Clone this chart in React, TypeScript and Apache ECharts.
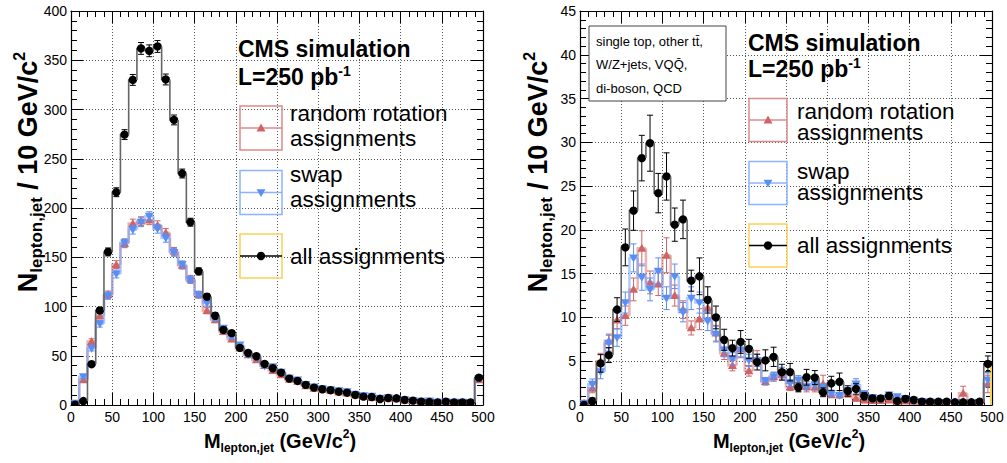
import React, { useEffect, useRef } from "react";
import * as echarts from "echarts";

// ---------- data ----------
const BIN_WIDTH = 10; // GeV/c^2, 50 bins from 0 to 500
const xTicks = [0, 50, 100, 150, 200, 250, 300, 350, 400, 450, 500];

// Left panel: ttbar signal
const leftAll = [0.3, 4, 41.4, 96, 155.4, 216, 274.5, 330, 362, 359.6, 364, 330.5, 289.4, 235, 185.6, 135.7, 110, 90.6, 76.3, 73, 58, 52.8, 49.5, 41.7, 37.3, 32.9, 26.8, 24.4, 20.4, 17.6, 16, 15, 13.5, 12.5, 10.2, 8.5, 8.1, 6.1, 7.1, 6.8, 5.1, 4.4, 3.4, 3, 2.7, 3.4, 2.7, 2.7, 2.7, 27.8];
const leftAllErr = [0.3, 1, 2, 3, 4, 4.5, 5, 5.5, 6, 6, 6, 5.5, 5, 4.5, 4, 3.5, 3, 3, 2.5, 2.5, 2.4, 2.3, 2.2, 2, 1.9, 1.8, 1.6, 1.6, 1.4, 1.3, 1.3, 1.2, 1.2, 1.1, 1, 0.9, 0.9, 0.8, 0.8, 0.8, 0.7, 0.7, 0.6, 0.6, 0.5, 0.6, 0.5, 0.5, 0.5, 1.6];
const leftRot = [1, 25.4, 64.4, 90.6, 112, 142.5, 163.9, 184.2, 186.6, 187.6, 182.5, 174.8, 156, 141.8, 128, 112, 95.7, 86.5, 74.6, 66.9, 57.7, 51, 45.8, 40, 35, 30.5, 26, 24, 19.5, 17, 15.5, 14.5, 13, 12, 10, 8.5, 7.5, 6.5, 6.8, 6.2, 4.8, 4.2, 3.6, 3.2, 3, 3, 2.8, 2.6, 2.6, 25.5];
const leftSwap = [2, 28.8, 57.7, 82.4, 111, 133, 164.6, 178, 185.6, 191.7, 179, 169.6, 155, 142.5, 127, 112, 103.5, 88, 78, 69.5, 61, 51, 48, 39.5, 39, 33.5, 27.5, 25.5, 21, 18.5, 16.5, 15.5, 14.5, 13.5, 11, 9.5, 9, 7, 7.5, 6.5, 5.5, 4.8, 4, 4.2, 3, 3.2, 2.9, 2.8, 2.6, 26.5];
const leftAssignErr = [0.5, 1.8, 2.8, 3.3, 3.7, 4, 4.2, 4.5, 4.5, 4.5, 4.5, 4.3, 4, 3.8, 3.6, 3.4, 3.1, 2.9, 2.7, 2.6, 2.4, 2.2, 2.1, 2, 1.9, 1.7, 1.6, 1.5, 1.4, 1.3, 1.3, 1.2, 1.2, 1.1, 1, 0.9, 0.9, 0.8, 0.8, 0.8, 0.7, 0.7, 0.6, 0.6, 0.5, 0.5, 0.5, 0.5, 0.5, 1.6];

// Right panel: backgrounds
const rightAll = [0, 0.45, 4.75, 5.7, 10.9, 18, 22.2, 28.2, 29.9, 24.2, 26.1, 20.6, 21.2, 14.2, 14.7, 12, 10, 7.45, 6.5, 7.2, 6.4, 4.9, 5.1, 5.5, 3.75, 3.75, 2, 3.17, 3.13, 1.45, 2.48, 2.65, 1.6, 1.83, 1, 0.76, 0.76, 1.03, 0.46, 0.69, 0.57, 0.38, 0.38, 0.38, 0.38, 0.31, 0.31, 0.31, 0.38, 4.7];
const rightAllErr = [0, 0.35, 1, 0.85, 1.35, 2.1, 2.25, 2.6, 3.2, 2.25, 2.7, 1.9, 2.2, 1.2, 2.1, 1.5, 1.3, 1.2, 0.9, 1.3, 1.1, 0.9, 1.2, 1.1, 0.9, 1, 0.5, 0.9, 0.8, 0.5, 0.8, 1, 0.6, 0.6, 0.4, 0.3, 0.3, 0.35, 0.25, 0.3, 0.25, 0.2, 0.2, 0.2, 0.2, 0.2, 0.2, 0.2, 0.2, 0.9];
const rightRot = [0.2, 1.9, 5, 7.3, 9.7, 10.2, 13.2, 17.9, 14, 13.8, 17.1, 12.5, 10.9, 8.8, 9.8, 11.1, 8.2, 5.9, 4.5, 6.4, 3.9, 5.3, 2.67, 3.24, 3.43, 2.05, 2.1, 2.1, 2, 2.4, 1.15, 1.15, 1.3, 0.76, 0.57, 0.5, 0.5, 0.57, 0.4, 0.45, 0.4, 0.3, 0.3, 0.3, 0.25, 0.3, 1.34, 0.3, 0.25, 2.4];
const rightRotErr = [0.2, 0.5, 0.9, 0.8, 1, 1.1, 1.3, 2, 1.3, 1.3, 2, 1.2, 1, 0.8, 1.2, 1.3, 0.9, 0.7, 0.6, 1, 0.6, 0.9, 0.4, 0.5, 0.6, 0.4, 0.5, 0.6, 0.5, 1, 0.3, 0.3, 0.4, 0.3, 0.25, 0.2, 0.2, 0.25, 0.2, 0.2, 0.2, 0.15, 0.15, 0.15, 0.15, 0.15, 0.8, 0.15, 0.15, 1];
const rightSwap = [0.2, 2.37, 3.8, 7.06, 7.7, 11.7, 16.8, 14.6, 13.2, 15.3, 12.2, 14.7, 10.6, 12.2, 11.7, 9.6, 8.1, 6.3, 5.27, 6.3, 5.1, 5.1, 2.75, 3.24, 3.7, 2.5, 2.86, 2.1, 2.3, 2, 1.3, 1.1, 1.6, 2.4, 1.3, 0.88, 0.76, 1.15, 0.95, 0.76, 0.57, 0.4, 0.35, 0.3, 0.3, 0.3, 0.25, 0.25, 0.3, 2.86];
const rightSwapErr = [0.2, 0.6, 0.8, 0.9, 1, 1.2, 1.6, 1.5, 1.3, 1.5, 1.3, 1.4, 1.1, 1.3, 1.2, 1.1, 0.9, 0.8, 0.7, 0.8, 0.7, 0.7, 0.4, 0.5, 0.6, 0.4, 0.5, 0.4, 0.4, 0.4, 0.3, 0.3, 0.4, 0.6, 0.3, 0.25, 0.2, 0.3, 0.25, 0.2, 0.2, 0.15, 0.15, 0.15, 0.15, 0.15, 0.15, 0.15, 0.15, 0.8];

const legendLabels = ["random rotation\nassignments", "swap\nassignments", "all assignments"];
const infoLines = ["single top, other tt\u0304,", "W/Z+jets, VQQ\u0304,", "di-boson, QCD"];

// ---------- styles ----------
const FONT = "'Liberation Sans', Arial, Helvetica, sans-serif";
const RED = "#d06464";
const RED_LINE = "rgba(214,120,120,0.55)";
const RED_BOX = "#dc8a8a";
const BLUE = "#5b8ef5";
const BLUE_LINE = "rgba(110,160,255,0.55)";
const BLUE_BOX = "#8db3ff";
const YELLOW = "#f7d25a";

type Marker = "circle" | "up" | "down";

function markerShape(kind: Marker, cx: number, cy: number, color: string, s = 4.5): any {
  if (kind === "circle") return { type: "circle", shape: { cx, cy, r: 4.2 }, style: { fill: color } };
  const pts = kind === "up"
    ? [[cx, cy - s], [cx - s, cy + s * 0.75], [cx + s, cy + s * 0.75]]
    : [[cx, cy + s], [cx - s, cy - s * 0.75], [cx + s, cy - s * 0.75]];
  return { type: "polygon", shape: { points: pts }, style: { fill: color } };
}

function makeHist(gi: number, values: number[], errs: number[], o: any) {
  const data = values.map((v, i) => [i * BIN_WIDTH, (i + 1) * BIN_WIDTH, v, errs[i], i > 0 ? values[i - 1] : 0]);
  return {
    type: "custom",
    xAxisIndex: gi * 2,
    yAxisIndex: gi * 2,
    clip: true,
    z: o.z,
    data,
    encode: { x: [0, 1], y: 2 },
    renderItem: (params: any, api: any) => {
      const lo = api.value(0), hi = api.value(1), v = api.value(2), e = api.value(3), pv = api.value(4);
      const a = api.coord([lo, pv]);
      const b = api.coord([lo, v]);
      const c = api.coord([hi, v]);
      const cx = (b[0] + c[0]) / 2;
      const yT = api.coord([lo, v + e])[1];
      const yB = api.coord([lo, Math.max(v - e, 0)])[1];
      const children: any[] = [
        { type: "polyline", shape: { points: [a, b, c] }, style: { stroke: o.line, lineWidth: o.lw, fill: "none" } },
      ];
      if (o.edge && params.dataIndex === values.length - 1) {
        const z0 = api.coord([hi, 0]);
        children.push({ type: "line", shape: { x1: c[0] - 1, y1: c[1], x2: z0[0] - 1, y2: z0[1] }, style: { stroke: o.edge, lineWidth: 2 } });
      }
      if (e > 0) {
        const es = { stroke: o.err, lineWidth: 1 };
        children.push({ type: "line", shape: { x1: cx, y1: yT, x2: cx, y2: yB }, style: es });
        children.push({ type: "line", shape: { x1: cx - 3, y1: yT, x2: cx + 3, y2: yT }, style: es });
        children.push({ type: "line", shape: { x1: cx - 3, y1: yB, x2: cx + 3, y2: yB }, style: es });
      }
      children.push(markerShape(o.marker, cx, b[1], o.color));
      return { type: "group", children };
    },
  };
}

function xAxes(gi: number) {
  const common = {
    type: "value", gridIndex: gi, min: 0, max: 500, interval: 50,
    axisLine: { show: true, onZero: false, lineStyle: { color: "#000", width: 1.2 } },
    axisTick: { show: true, inside: true, length: 12, lineStyle: { color: "#000", width: 1 } },
    minorTick: { show: true, splitNumber: 5, length: 6, lineStyle: { color: "#000", width: 1 } },
    minorSplitLine: { show: false },
  };
  return [
    { ...common, position: "bottom",
      axisLabel: { show: true, color: "#000", fontSize: 14, fontFamily: FONT, margin: 5,
        formatter: (v: number) => (xTicks.includes(v) ? String(v) : "") },
      splitLine: { show: true, lineStyle: { color: "#555", type: [1, 2], width: 1 } } },
    { ...common, position: "top", axisLabel: { show: false }, splitLine: { show: false } },
  ];
}

function yAxes(gi: number, max: number, interval: number) {
  const common = {
    type: "value", gridIndex: gi, min: 0, max, interval,
    axisLine: { show: true, onZero: false, lineStyle: { color: "#000", width: 1.2 } },
    axisTick: { show: true, inside: true, length: 12, lineStyle: { color: "#000", width: 1 } },
    minorTick: { show: true, splitNumber: 5, length: 6, lineStyle: { color: "#000", width: 1 } },
    minorSplitLine: { show: false },
  };
  return [
    { ...common, position: "left",
      axisLabel: { show: true, color: "#000", fontSize: 14, fontFamily: FONT, margin: 4 },
      splitLine: { show: true, lineStyle: { color: "#555", type: [1, 2], width: 1 } } },
    { ...common, position: "right", axisLabel: { show: false }, splitLine: { show: false } },
  ];
}

const richX = {
  n: { fontSize: 20, fontWeight: "bold", fontFamily: FONT, fill: "#000", lineHeight: 26 },
  s: { fontSize: 12, fontWeight: "bold", fontFamily: FONT, fill: "#000", lineHeight: 12, verticalAlign: "bottom" },
  p: { fontSize: 12, fontWeight: "bold", fontFamily: FONT, fill: "#000", lineHeight: 12, verticalAlign: "top" },
};
const richY = {
  n: { fontSize: 27, fontWeight: "bold", fontFamily: FONT, fill: "#000", lineHeight: 34 },
  s: { fontSize: 17, fontWeight: "bold", fontFamily: FONT, fill: "#000", lineHeight: 17, verticalAlign: "bottom" },
  p: { fontSize: 16, fontWeight: "bold", fontFamily: FONT, fill: "#000", lineHeight: 16, verticalAlign: "top" },
};

function txt(x: number, y: number, text: string, size: number, bold = false, extra: any = {}) {
  return {
    type: "text", x, y, z: 100,
    style: { text, fill: "#000", font: `${bold ? "bold " : ""}${size}px ${FONT}`, align: "left", verticalAlign: "middle", ...extra },
  };
}

function panelTexts(ox: number, cmsY: number, lumY: number, lg: any) {
  const els: any[] = [];
  els.push(txt(ox, cmsY, "CMS simulation", 23, true));
  els.push({
    type: "text", x: ox, y: lumY, z: 100,
    style: {
      text: "{m|L=250 pb}{p|-1}", align: "left", verticalAlign: "middle",
      rich: {
        m: { fontSize: 23, fontWeight: "bold", fontFamily: FONT, fill: "#000", lineHeight: 26 },
        p: { fontSize: 14, fontWeight: "bold", fontFamily: FONT, fill: "#000", lineHeight: 14, verticalAlign: "top" },
      },
    },
  });
  const boxes = [
    { y: lg.y[0], color: RED_BOX, mk: "up", mc: RED, lineC: RED_BOX, label: legendLabels[0], ty: lg.t[0] },
    { y: lg.y[1], color: BLUE_BOX, mk: "down", mc: BLUE, lineC: BLUE_BOX, label: legendLabels[1], ty: lg.t[1] },
    { y: lg.y[2], color: YELLOW, mk: "circle", mc: "#000", lineC: "#000", label: legendLabels[2], ty: lg.t[2] },
  ];
  boxes.forEach((b) => {
    els.push({ type: "rect", z: 99, shape: { x: lg.x, y: b.y, width: lg.w, height: lg.h }, style: { fill: "none", stroke: b.color, lineWidth: 1.5 } });
    const my = b.y + lg.h / 2;
    els.push({ type: "line", z: 99, shape: { x1: lg.x, y1: my, x2: lg.x + lg.w, y2: my }, style: { stroke: b.lineC, lineWidth: 1.5 } });
    els.push({ ...markerShape(b.mk as Marker, lg.x + lg.w / 2, my, b.mc), z: 100 });
    els.push(txt(lg.tx, b.ty, b.label, 22.5, false, { lineHeight: lg.lh }));
  });
  return els;
}

export default function App() {
  const ref = useRef<HTMLDivElement>(null);
  useEffect(() => {
    if (!ref.current) return;
    const chart = echarts.init(ref.current, undefined, { renderer: "svg" });
    const option: any = {
      animation: false,
      backgroundColor: "#fff",
      grid: [
        { left: 71, top: 11, width: 412, height: 394 },
        { left: 580, top: 11, width: 412, height: 394 },
      ],
      xAxis: [...xAxes(0), ...xAxes(1)],
      yAxis: [...yAxes(0, 400, 50), ...yAxes(1, 45, 5)],
      series: [
        makeHist(0, leftRot, leftAssignErr, { line: RED_LINE, lw: 2.5, err: RED, color: RED, marker: "up", z: 3 }),
        makeHist(0, leftSwap, leftAssignErr, { line: BLUE_LINE, lw: 2.5, err: BLUE, color: BLUE, marker: "down", z: 4 }),
        makeHist(0, leftAll, leftAllErr, { line: "#666", lw: 1.6, err: "#000", color: "#000", marker: "circle", z: 5 }),
        makeHist(1, rightRot, rightRotErr, { line: RED_LINE, lw: 2.5, err: RED, color: RED, marker: "up", z: 3 }),
        makeHist(1, rightSwap, rightSwapErr, { line: BLUE_LINE, lw: 2.5, err: BLUE, color: BLUE, marker: "down", z: 4 }),
        makeHist(1, rightAll, rightAllErr, { line: "#666", lw: 1.6, err: "#000", color: "#000", marker: "circle", z: 5, edge: YELLOW }),
      ],
      graphic: [
        // axis titles
        { type: "text", x: 28, y: 172, rotation: Math.PI / 2, z: 100,
          style: { text: "{n|N}{s|lepton,jet}{n| / 10 GeV/c}{p|2}", rich: richY, align: "center", verticalAlign: "middle" } },
        { type: "text", x: 538, y: 172, rotation: Math.PI / 2, z: 100,
          style: { text: "{n|N}{s|lepton,jet}{n| / 10 GeV/c}{p|2}", rich: richY, align: "center", verticalAlign: "middle" } },
        { type: "text", x: 280, y: 441, z: 100,
          style: { text: "{n|M}{s|lepton,jet}{n| (GeV/c}{p|2}{n|)}", rich: richX, align: "center", verticalAlign: "middle" } },
        { type: "text", x: 789, y: 441, z: 100,
          style: { text: "{n|M}{s|lepton,jet}{n| (GeV/c}{p|2}{n|)}", rich: richX, align: "center", verticalAlign: "middle" } },
        // info box (right panel)
        { type: "rect", z: 98, shape: { x: 589, y: 26, width: 137, height: 75 }, style: { fill: "#fff", stroke: "#444", lineWidth: 1 } },
        ...infoLines.map((l, k) => txt(596, 41 + k * 23.5, l, 13)),
        ...panelTexts(238, 49, 77, { x: 240, w: 42, h: 44, y: [106, 170.5, 234], tx: 290, lh: 25, t: [126, 186.5, 256] }),
        ...panelTexts(748, 43, 69, { x: 749, w: 38, h: 43, y: [98.5, 161.5, 224], tx: 797, lh: 21, t: [121.5, 181.5, 245] }),
      ],
    };
    chart.setOption(option);
    return () => chart.dispose();
  }, []);
  return <div ref={ref} style={{ position: "absolute", left: 0, top: 0, width: 1007, height: 463 }} />;
}
